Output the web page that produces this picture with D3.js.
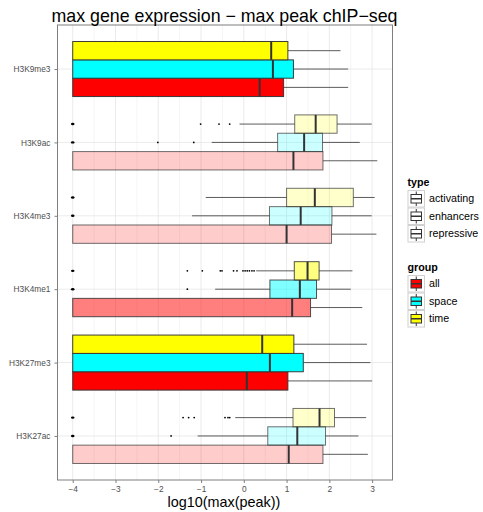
<!DOCTYPE html>
<html>
<head>
<meta charset="utf-8">
<script src="https://cdn.jsdelivr.net/npm/d3@7"></script>
<style>
html,body{margin:0;padding:0;background:#fff;}
svg{display:block;font-family:"Liberation Sans",Arial,Helvetica,sans-serif;}
</style>
</head>
<body>
<svg id="chart" width="483" height="512"></svg>
<script>
// ---------- data ----------
const categories = ["H3K9me3","H3K9ac","H3K4me3","H3K4me1","H3K27me3","H3K27ac"];
const categoryType = ["repressive","activating","activating","enhancers","repressive","activating"];
const groups = ["all","space","time"];
const groupColors = ["#FF0000","#00FFFF","#FFFF00"];
const typeLevels = ["activating","enhancers","repressive"];
const typeAlpha = [0.2,0.5,1];
const xTicks = [-4,-3,-2,-1,0,1,2,3];

// five-number summaries per category (order of `categories`)
const allLower  = [-4,-4,-4,-4,-4,-4];
const allQ1     = [-4,-4,-4,-4,-4,-4];
const allMedian = [0.37,1.16,1.00,1.13,0.07,1.05];
const allQ3     = [0.93,1.85,2.05,1.56,1.03,1.85];
const allUpper  = [2.44,3.12,3.10,2.77,3.00,2.90];

const spaceLower  = [-4,-0.75,-1.21,-0.67,-4,-1.08];
const spaceQ1     = [-4,0.79,0.60,0.61,-4,0.56];
const spaceMedian = [0.68,1.41,1.33,1.31,0.61,1.25];
const spaceQ3     = [1.16,1.84,2.06,1.70,1.39,1.91];
const spaceUpper  = [2.44,2.71,2.99,2.50,2.96,2.68];

const timeLower  = [-4,-0.10,-0.89,0.29,-4,-0.20];
const timeQ1     = [-4,1.19,1.00,1.18,-4,1.15];
const timeMedian = [0.64,1.68,1.66,1.49,0.43,1.77];
const timeQ3     = [1.03,2.18,2.56,1.76,1.17,2.12];
const timeUpper  = [2.26,2.99,3.06,2.54,2.88,2.86];

const allOutliers   = [[],[],[],[],[],[]];
const spaceOutliers = [[],[-4,-2.01,-1.17],[-4],[-4,-1.32],[],[-4,-1.70]];
const timeOutliers  = [[],[-4,-1.01,-0.58,-0.33],[-4],
  [-4,-1.32,-0.97,-0.55,-0.51,-0.24,-0.16,-0.02,0.03,0.08,0.13,0.19,0.24],
  [],[-4,-1.42,-1.29,-1.16,-0.44,-0.37,-0.33]];

// ---------- build ----------
const stats = {
  all:   {lo:allLower,q1:allQ1,med:allMedian,q3:allQ3,hi:allUpper,out:allOutliers},
  space: {lo:spaceLower,q1:spaceQ1,med:spaceMedian,q3:spaceQ3,hi:spaceUpper,out:spaceOutliers},
  time:  {lo:timeLower,q1:timeQ1,med:timeMedian,q3:timeQ3,hi:timeUpper,out:timeOutliers}
};
const boxes = [];
categories.forEach((c,i)=>{
  groups.forEach((g,gi)=>{
    const s = stats[g];
    boxes.push({cat:c, ci:i, group:g, gi:gi, type:categoryType[i],
      lo:s.lo[i], q1:s.q1[i], med:s.med[i], q3:s.q3[i], hi:s.hi[i], out:s.out[i]});
  });
});

const svg = d3.select("#chart");
const W = 483, H = 512;
const panel = {left:57.5, right:392.5, top:25, bottom:480};

const allVals = boxes.flatMap(b=>[b.lo,b.hi,...b.out]);
const xmin = d3.min(allVals), xmax = d3.max(allVals);
const xpad = (xmax - xmin)*0.05;
const x = d3.scaleLinear().domain([xmin - xpad, xmax + xpad]).range([panel.left, panel.right]);

// discrete axis with ggplot-like 0.6 expansion
const n = categories.length;
const yLin = d3.scaleLinear().domain([-0.6, n - 1 + 0.6]).range([panel.top, panel.bottom]);
const y = c => yLin(categories.indexOf(c));
const step = yLin(1) - yLin(0);
const boxH = step*0.25;
// dodge: time on top, space middle, all bottom
const groupOffset = g => (1 - groups.indexOf(g)) * boxH; // all:+1, space:0, time:-1

const alphaOf = t => typeAlpha[typeLevels.indexOf(t)];
const colorOf = g => groupColors[groups.indexOf(g)];

// panel background & grid
svg.append("rect").attr("x",panel.left).attr("y",panel.top)
  .attr("width",panel.right-panel.left).attr("height",panel.bottom-panel.top)
  .attr("fill","#fff");

const minorTicks = d3.range(xTicks[0]-0.5, xTicks[xTicks.length-1]+1, 1)
  .filter(v=>x(v)>panel.left && x(v)<panel.right);
svg.append("g").selectAll("line").data(minorTicks).join("line")
  .attr("x1",d=>x(d)).attr("x2",d=>x(d)).attr("y1",panel.top).attr("y2",panel.bottom)
  .attr("stroke","#f5f5f5").attr("stroke-width",1);
svg.append("g").selectAll("line").data(xTicks).join("line")
  .attr("x1",d=>x(d)).attr("x2",d=>x(d)).attr("y1",panel.top).attr("y2",panel.bottom)
  .attr("stroke","#e6e6e6").attr("stroke-width",0.8);
svg.append("g").selectAll("line").data(categories).join("line")
  .attr("x1",panel.left).attr("x2",panel.right).attr("y1",d=>y(d)).attr("y2",d=>y(d))
  .attr("stroke","#e6e6e6").attr("stroke-width",0.8);

// boxplots
const gBox = svg.append("g");
boxes.forEach(b=>{
  const cy = y(b.cat) + groupOffset(b.group);
  const a = alphaOf(b.type);
  const strokeOp = b.type==="repressive" ? 0.95 : (b.type==="enhancers" ? 0.85 : 0.7);
  const g = gBox.append("g");
  // whiskers
  if (b.hi > b.q3) g.append("line").attr("x1",x(b.q3)).attr("x2",x(b.hi)).attr("y1",cy).attr("y2",cy)
    .attr("stroke","#333").attr("stroke-opacity",0.8).attr("stroke-width",1);
  if (b.lo < b.q1) g.append("line").attr("x1",x(b.lo)).attr("x2",x(b.q1)).attr("y1",cy).attr("y2",cy)
    .attr("stroke","#333").attr("stroke-opacity",0.8).attr("stroke-width",1);
  // box
  g.append("rect").attr("x",x(b.q1)).attr("y",cy-boxH/2)
    .attr("width",x(b.q3)-x(b.q1)).attr("height",boxH)
    .attr("fill",colorOf(b.group)).attr("fill-opacity",a)
    .attr("stroke","#333").attr("stroke-opacity",strokeOp).attr("stroke-width",1);
  // median
  g.append("line").attr("x1",x(b.med)).attr("x2",x(b.med))
    .attr("y1",cy-boxH/2).attr("y2",cy+boxH/2)
    .attr("stroke","#333").attr("stroke-width",2);
  // outliers
  g.selectAll("ellipse").data(b.out).join("ellipse")
    .attr("cx",d=>x(d)).attr("cy",cy)
    .attr("rx",d=>d===xmin?1.8:0.9).attr("ry",d=>d===xmin?1.2:0.9)
    .attr("fill","#000");
});

// panel border
svg.append("rect").attr("x",panel.left).attr("y",panel.top)
  .attr("width",panel.right-panel.left).attr("height",panel.bottom-panel.top)
  .attr("fill","none").attr("stroke","#7f7f7f").attr("stroke-width",1);

// x axis
const xAxisG = svg.append("g").attr("transform",`translate(0,${panel.bottom})`)
  .call(d3.axisBottom(x).tickValues(xTicks).tickSize(3).tickPadding(3)
    .tickFormat(d=>d<0 ? "\u2212"+Math.abs(d) : String(d)));
xAxisG.select(".domain").remove();
xAxisG.selectAll(".tick line").attr("stroke","#7f7f7f");
xAxisG.selectAll(".tick text").attr("fill","#4d4d4d").attr("font-size","8.3px")
  .attr("font-family","'Liberation Sans',Arial,sans-serif");

// y axis
const yAxisG = svg.append("g").attr("transform",`translate(${panel.left},0)`)
  .call(d3.axisLeft(yLin).tickValues(d3.range(n)).tickSize(3).tickPadding(4)
    .tickFormat(i=>categories[i]));
yAxisG.select(".domain").remove();
yAxisG.selectAll(".tick line").attr("stroke","#7f7f7f");
yAxisG.selectAll(".tick text").attr("fill","#4d4d4d").attr("font-size","8.3px")
  .attr("font-family","'Liberation Sans',Arial,sans-serif");

// title and axis title
svg.append("text").attr("x",224.5).attr("y",21.5).attr("text-anchor","middle")
  .attr("font-size","17.8px").attr("fill","#000").text("max gene expression \u2212 max peak chIP\u2212seq");
svg.append("text").attr("x",224).attr("y",507).attr("text-anchor","middle")
  .attr("font-size","14.4px").attr("fill","#000").text("log10(max(peak))");

// legends
const keyS = 17.5, legX = 407.5, labX = 429;
function drawKey(gx, gy, fill, fillOp){
  const k = svg.append("g").attr("transform",`translate(${gx},${gy})`);
  k.append("rect").attr("x",0.5).attr("y",0.5).attr("width",keyS-1).attr("height",keyS-1)
    .attr("fill","#fff").attr("stroke","#d0d0d0").attr("stroke-width",1);
  const bx0 = 3.5, bx1 = keyS-3.5, by0 = 4.5, by1 = keyS-4.5, cx = keyS/2;
  k.append("line").attr("x1",cx).attr("x2",cx).attr("y1",1.5).attr("y2",by0).attr("stroke","#333");
  k.append("line").attr("x1",cx).attr("x2",cx).attr("y1",by1).attr("y2",keyS-1.5).attr("stroke","#333");
  k.append("rect").attr("x",bx0).attr("y",by0).attr("width",bx1-bx0).attr("height",by1-by0)
    .attr("fill",fill).attr("fill-opacity",fillOp).attr("stroke","#333").attr("stroke-width",1);
  k.append("line").attr("x1",bx0).attr("x2",bx1).attr("y1",keyS/2).attr("y2",keyS/2)
    .attr("stroke","#333").attr("stroke-width",1.5);
}
// type legend
svg.append("text").attr("x",legX).attr("y",185.7).attr("font-size","10.7px")
  .attr("font-weight","bold").text("type");
typeLevels.forEach((t,i)=>{
  const gy = 190 + i*keyS;
  drawKey(legX, gy, "#fff", 0);
  svg.append("text").attr("x",labX).attr("y",gy+keyS/2).attr("dy","0.35em")
    .attr("font-size","10.7px").text(t);
});
// group legend
svg.append("text").attr("x",legX).attr("y",270.7).attr("font-size","10.7px")
  .attr("font-weight","bold").text("group");
groups.forEach((g,i)=>{
  const gy = 275 + i*keyS;
  drawKey(legX, gy, groupColors[i], 1);
  svg.append("text").attr("x",labX).attr("y",gy+keyS/2).attr("dy","0.35em")
    .attr("font-size","10.7px").text(g);
});
</script>
</body>
</html>
